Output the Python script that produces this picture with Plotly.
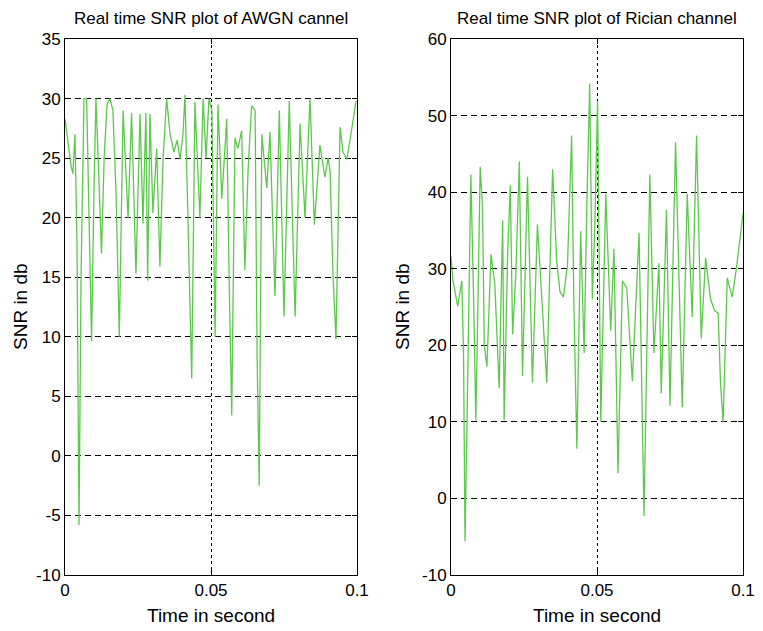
import plotly.graph_objects as go
from plotly.subplots import make_subplots

# ---- Data ----
t_awgn = [0.0000, 0.0010, 0.0021, 0.0027, 0.0034, 0.0041, 0.0048, 0.0055, 0.0065, 0.0074,
          0.0082, 0.0091, 0.0099, 0.0106, 0.0115, 0.0125, 0.0134, 0.0144, 0.0154, 0.0164,
          0.0175, 0.0186, 0.0199, 0.0216, 0.0228, 0.0243, 0.0257, 0.0267, 0.0277, 0.0283,
          0.0291, 0.0301, 0.0314, 0.0325, 0.0336, 0.0348, 0.0360, 0.0373, 0.0384, 0.0394,
          0.0404, 0.0411, 0.0421, 0.0434, 0.0445, 0.0462, 0.0473, 0.0483, 0.0493, 0.0503,
          0.0514, 0.0524, 0.0537, 0.0554, 0.0562, 0.0571, 0.0582, 0.0592, 0.0605, 0.0616,
          0.0627, 0.0639, 0.0651, 0.0658, 0.0665, 0.0674, 0.0691, 0.0702, 0.0719, 0.0734,
          0.0750, 0.0768, 0.0788, 0.0805, 0.0822, 0.0839, 0.0854, 0.0873, 0.0890, 0.0901,
          0.0908, 0.0918, 0.0928, 0.0942, 0.0952, 0.0965, 0.0976, 0.0986, 0.0997]
snr_awgn = [28.3, 26.5, 24.3, 23.7, 27.0, 18.0, -5.8, 15.0, 30.0, 30.0,
            20.0, 9.6, 22.0, 30.0, 24.0, 17.0, 25.0, 29.5, 30.0, 29.0,
            22.0, 10.0, 29.0, 20.0, 28.8, 15.3, 28.7, 19.5, 28.8, 14.7,
            28.7, 20.4, 25.8, 15.9, 25.0, 30.0, 27.0, 25.5, 26.5, 24.9,
            27.0, 30.3, 20.0, 6.5, 29.7, 20.0, 30.0, 25.0, 30.0, 29.0,
            10.0, 29.5, 21.6, 28.3, 15.0, 3.4, 26.7, 25.8, 27.3, 15.6,
            24.0, 29.4, 29.0, 8.0, -2.5, 27.0, 22.5, 27.2, 13.4, 29.0,
            11.7, 29.8, 11.7, 27.9, 20.0, 30.0, 19.4, 26.1, 23.4, 25.0,
            23.9, 15.0, 9.8, 27.6, 25.5, 24.9, 26.5, 28.0, 29.8]

t_rician = [0.0000, 0.0007, 0.0023, 0.0037, 0.0043, 0.0048, 0.0055, 0.0062, 0.0068, 0.0078,
            0.0085, 0.0092, 0.0100, 0.0108, 0.0114, 0.0123, 0.0137, 0.0150, 0.0165, 0.0177,
            0.0182, 0.0194, 0.0203, 0.0211, 0.0222, 0.0234, 0.0245, 0.0262, 0.0279, 0.0296,
            0.0314, 0.0328, 0.0348, 0.0362, 0.0373, 0.0385, 0.0399, 0.0413, 0.0421, 0.0431,
            0.0444, 0.0456, 0.0465, 0.0475, 0.0484, 0.0492, 0.0502, 0.0513, 0.0530, 0.0547,
            0.0558, 0.0572, 0.0587, 0.0602, 0.0621, 0.0632, 0.0644, 0.0661, 0.0681, 0.0695,
            0.0712, 0.0720, 0.0738, 0.0750, 0.0769, 0.0792, 0.0809, 0.0826, 0.0841, 0.0857,
            0.0872, 0.0889, 0.0903, 0.0915, 0.0923, 0.0932, 0.0946, 0.0963, 0.0978, 0.1000]
snr_rician = [31.6, 28.4, 25.1, 28.4, 18.6, -5.6, 10.0, 29.8, 42.3, 25.0,
              10.2, 25.0, 43.3, 38.0, 20.0, 17.2, 31.9, 28.0, 14.4, 36.3,
              10.2, 32.0, 40.9, 21.4, 29.3, 44.0, 16.0, 42.0, 15.1, 35.8,
              23.7, 15.1, 43.0, 31.0, 27.0, 26.3, 30.5, 47.4, 25.0, 6.5,
              34.9, 19.0, 38.0, 54.2, 26.0, 35.0, 51.9, 10.0, 39.8, 21.9,
              32.6, 3.3, 28.4, 27.5, 15.3, 25.0, 34.7, -2.3, 42.3, 19.0,
              30.7, 13.7, 37.7, 12.1, 46.5, 11.9, 39.8, 23.7, 47.4, 20.9,
              31.4, 26.0, 24.5, 24.2, 15.0, 10.0, 28.8, 26.3, 30.2, 37.2]

titles = ["Real time SNR plot of AWGN cannel", "Real time SNR plot of Rician channel"]
x_ticks = [0, 0.05, 0.1]
x_ticklabels = ["0", "0.05", "0.1"]
y_ticks_awgn = [-10, -5, 0, 5, 10, 15, 20, 25, 30, 35]
y_ticks_rician = [-10, 0, 10, 20, 30, 40, 50, 60]

# the page has an 8px body margin, so the figure is drawn 8px smaller and offset
OFF = 8
W, H = 763 - OFF, 631 - OFF
ml, mt = 65 - OFF, 39 - OFF
mr = W - (743 - OFF)
mb = H - (575 - OFF)
pw = W - ml - mr
left_w = 292
right_start = 451 - 65

fig = make_subplots(rows=1, cols=2)
line_color = "#5cc94c"
fig.add_trace(go.Scatter(x=t_awgn, y=snr_awgn, mode="lines",
                         line=dict(color=line_color, width=1.3), showlegend=False), 1, 1)
fig.add_trace(go.Scatter(x=t_rician, y=snr_rician, mode="lines",
                         line=dict(color=line_color, width=1.3), showlegend=False), 1, 2)

fam = "Liberation Sans, Arial, sans-serif"
tick_font = dict(family=fam, size=17, color="black")
title_font = dict(family=fam, size=17, color="black")
label_font = dict(family=fam, size=19, color="black")

fig.update_layout(
    width=W, height=H,
    margin=dict(l=ml, r=mr, t=mt, b=mb, autoexpand=False),
    paper_bgcolor="white", plot_bgcolor="white",
    font=tick_font,
    xaxis=dict(domain=[0, left_w / pw]),
    xaxis2=dict(domain=[right_start / pw, 1]),
)

axis_common = dict(showline=True, linecolor="black", linewidth=1, mirror="ticks",
                   ticks="inside", ticklen=5, tickcolor="black",
                   showgrid=True, gridcolor="black", gridwidth=1,
                   zeroline=False, tickfont=tick_font, automargin=False)

def lab(v):
    return str(v).replace("\u2212", "-")

for c in (1, 2):
    fig.update_xaxes(range=[0, 0.1], tickvals=x_ticks, ticktext=x_ticklabels,
                     griddash="3px,3px", row=1, col=c, **axis_common)
fig.update_yaxes(range=[-10, 35], tickvals=y_ticks_awgn,
                 ticktext=[lab(v) for v in y_ticks_awgn], griddash="6px,4px",
                 row=1, col=1, **axis_common)
fig.update_yaxes(range=[-10, 60], tickvals=y_ticks_rician,
                 ticktext=[lab(v) for v in y_ticks_rician], griddash="6px,4px",
                 row=1, col=2, **axis_common)

# titles and axis labels
lx0, lx1 = 0, left_w / pw
rx0, rx1 = right_start / pw, 1
anns = []
for (a, b), t in zip([(lx0, lx1), (rx0, rx1)], titles):
    anns.append(dict(text=t, x=(a + b) / 2, y=1, xref="paper", yref="paper",
                     xanchor="center", yanchor="middle", yshift=21, showarrow=False,
                     font=title_font))
    anns.append(dict(text="Time in second", x=(a + b) / 2, y=0, xref="paper", yref="paper",
                     xanchor="center", yanchor="middle", yshift=-40, showarrow=False,
                     font=label_font))
for a, xs in ((lx0, -45), (rx0, -49)):
    anns.append(dict(text="SNR in db", x=a, y=0.5, xref="paper", yref="paper",
                     xanchor="center", yanchor="middle", xshift=xs, textangle=-90,
                     showarrow=False, font=label_font))
fig.update_layout(annotations=anns)

fig.write_html("out.html")
